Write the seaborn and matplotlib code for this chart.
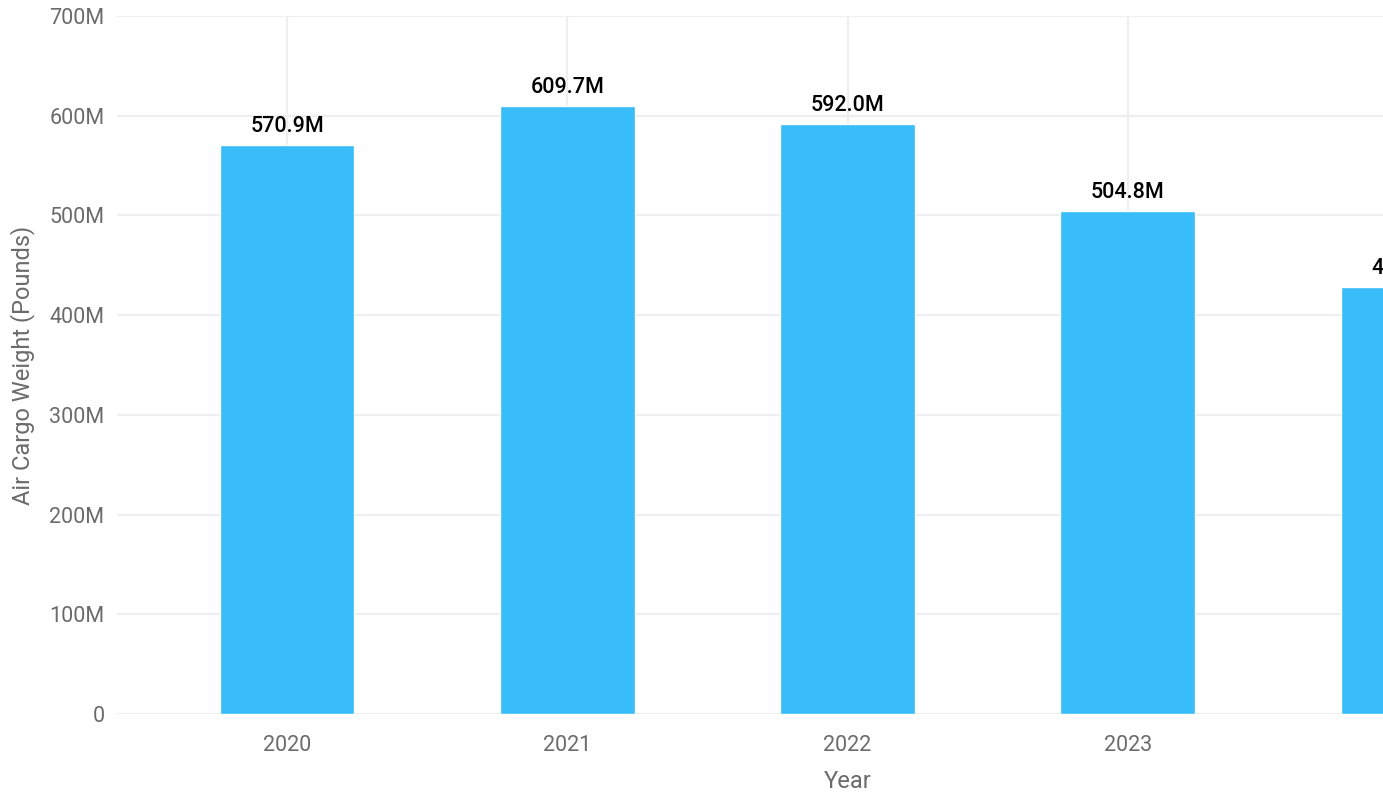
import matplotlib
matplotlib.use("Agg")
import matplotlib.pyplot as plt
from matplotlib.ticker import FuncFormatter
import seaborn as sns
import pandas as pd

years = ["2020", "2021", "2022", "2023", "2024"]
weights_m = [570.9, 609.7, 592.0, 504.8, 428.5]
y_ticks_m = [0, 100, 200, 300, 400, 500, 600, 700]

df = pd.DataFrame({"Year": years, "Weight": [v * 1e6 for v in weights_m]})

sns.set_theme(style="white")
plt.rcParams["font.family"] = ["Roboto", "DejaVu Sans"]

grid_color = "#eeeeee"
text_grey = "#6b6b6b"
bar_color = "#38bdf8"

fig = plt.figure(figsize=(13.83, 7.93), dpi=100)
# the plot area runs past the right edge of the canvas
ax = fig.add_axes([117 / 1383, 79 / 793, 1461 / 1383, 698 / 793])

sns.barplot(data=df, x="Year", y="Weight", order=years, color=bar_color,
            saturation=1, width=0.48, ax=ax, zorder=3)

ax.set_xlim(-0.607, len(years) - 1 + 0.607)
ax.set_ylim(0, 700e6)
ax.set_yticks([v * 1e6 for v in y_ticks_m])
ax.yaxis.set_major_formatter(FuncFormatter(lambda v, _: "0" if v == 0 else f"{v / 1e6:.0f}M"))

ax.grid(True, axis="both", color=grid_color, linewidth=1.5, zorder=0)
ax.set_axisbelow(True)
for s in ax.spines.values():
    s.set_visible(False)

ax.tick_params(axis="x", length=13, width=1.5, color=grid_color, pad=2,
               labelsize=15.5, labelcolor=text_grey)
ax.tick_params(axis="y", length=0, pad=9, labelsize=15.5, labelcolor=text_grey)

ax.set_xlabel("Year", fontsize=17, color=text_grey, labelpad=10.5)
ax.set_ylabel("Air Cargo Weight (Pounds)", fontsize=17, color=text_grey, labelpad=10)

for i, v in enumerate(weights_m):
    ax.annotate(f"{v:.1f}M", xy=(i, v * 1e6), xytext=(0, 5.5), textcoords="offset points",
                ha="center", va="bottom", fontsize=15.5, fontweight="medium",
                color="black", zorder=4)

fig.savefig("out.png", dpi=100)
